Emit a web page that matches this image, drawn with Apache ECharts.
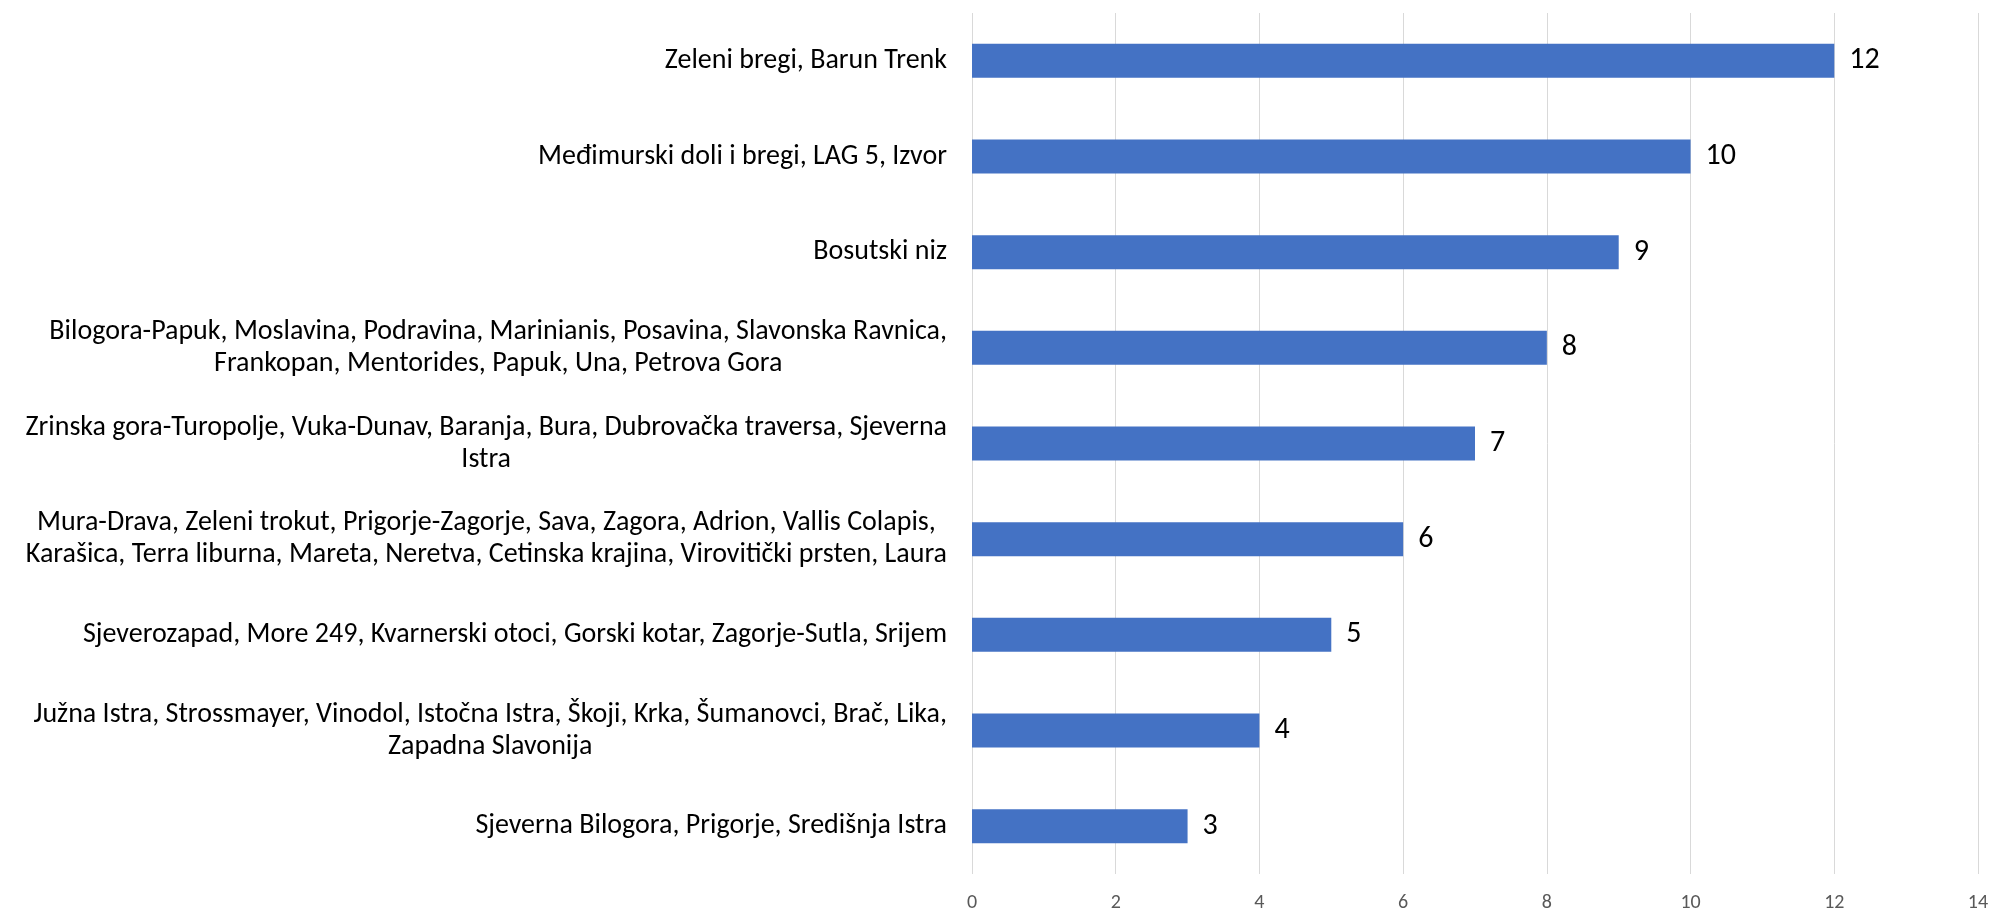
<!DOCTYPE html>
<html>
<head>
<meta charset="utf-8">
<script src="https://cdn.jsdelivr.net/npm/echarts@6/dist/echarts.min.js"></script>
<style>
  html, body { margin: 0; padding: 0; background: #fff; }
  #chart { width: 1992px; height: 915px; }
</style>
</head>
<body>
<div id="chart"></div>
<script>
// categories from bottom to top, as the bars are stacked in the picture
const categories = [
  'Sjeverna Bilogora, Prigorje, Središnja Istra',
  'Južna Istra, Strossmayer, Vinodol, Istočna Istra, Škoji, Krka, Šumanovci, Brač, Lika,\nZapadna Slavonija',
  'Sjeverozapad, More 249, Kvarnerski otoci, Gorski kotar, Zagorje-Sutla, Srijem',
  'Mura-Drava, Zeleni trokut, Prigorje-Zagorje, Sava, Zagora, Adrion, Vallis Colapis,\nKarašica, Terra liburna, Mareta, Neretva, Cetinska krajina, Virovitički prsten, Laura',
  'Zrinska gora-Turopolje, Vuka-Dunav, Baranja, Bura, Dubrovačka traversa, Sjeverna\nIstra',
  'Bilogora-Papuk, Moslavina, Podravina, Marinianis, Posavina, Slavonska Ravnica,\nFrankopan, Mentorides, Papuk, Una, Petrova Gora',
  'Bosutski niz',
  'Međimurski doli i bregi, LAG 5, Izvor',
  'Zeleni bregi, Barun Trenk'
]
const counts = [3, 4, 5, 6, 7, 8, 9, 10, 12]
const axisMax = 14
const axisStep = 2

const fontFamily = 'Carlito, Lato, sans-serif'

const chart = echarts.init(document.getElementById('chart'), null, { renderer: 'canvas' })

chart.setOption({
  animation: false,
  backgroundColor: '#ffffff',
  grid: {
    left: 972,
    right: 14,
    top: 13,
    bottom: 41,
    containLabel: false,
    outerBoundsMode: 'none'
  },
  xAxis: {
    type: 'value',
    min: 0,
    max: axisMax,
    interval: axisStep,
    axisLine: { show: false },
    axisTick: { show: false },
    axisLabel: {
      margin: 19,
      fontFamily: fontFamily,
      fontSize: 20,
      color: '#595959'
    },
    splitLine: {
      show: true,
      lineStyle: { color: '#d9d9d9', width: 1 }
    }
  },
  yAxis: {
    type: 'category',
    data: categories,
    axisLine: { show: false },
    axisTick: { show: false },
    axisLabel: {
      margin: 25,
      interval: 0,
      align: 'right',
      fontFamily: fontFamily,
      fontSize: 28,
      lineHeight: 32,
      color: '#000000',
      // wrapped lines are centred under each other, like in the original
      formatter: function (value) {
        return value.split('\n').map(function (line) {
          return '{c|' + line + '}'
        }).join('\n')
      },
      rich: {
        c: {
          align: 'center',
          fontFamily: fontFamily,
          fontSize: 28,
          lineHeight: 32,
          color: '#000000'
        }
      }
    }
  },
  series: [
    {
      type: 'bar',
      data: counts,
      barWidth: 34,
      itemStyle: { color: '#4472c4' },
      label: {
        show: true,
        position: 'right',
        distance: 15,
        fontFamily: fontFamily,
        fontSize: 30,
        color: '#000000'
      }
    }
  ]
})
</script>
</body>
</html>
